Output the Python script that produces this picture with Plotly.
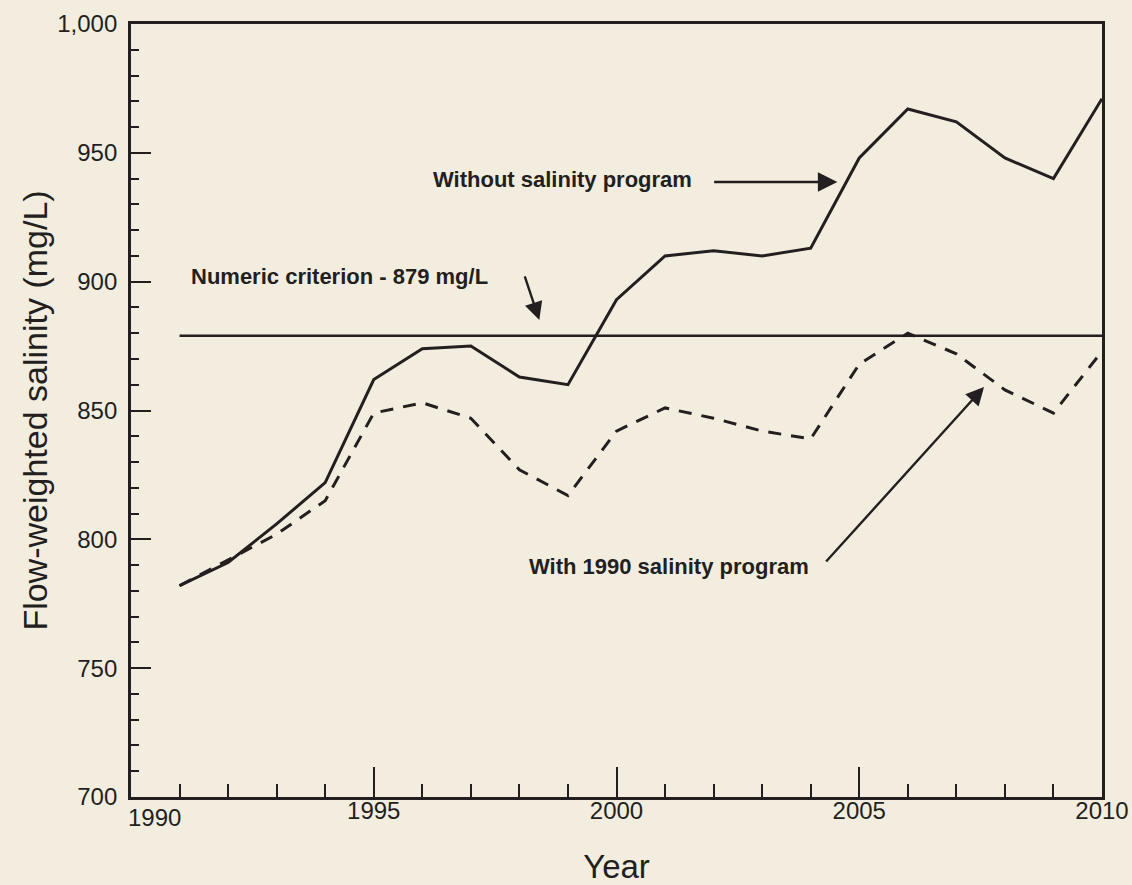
import plotly.graph_objects as go

# ---------------- data ----------------
years = list(range(1991, 2011))
without_program = [782, 791, 806, 822, 862, 874, 875, 863, 860, 893,
                   910, 912, 910, 913, 948, 967, 962, 948, 940, 971]
with_program = [782, 792, 802, 815, 849, 853, 847, 827, 817, 842,
                851, 847, 842, 839, 868, 880, 872, 858, 849, 873]
criterion_value = 879
criterion_years = [1991, 2010]

x_tick_vals = [1990, 1995, 2000, 2005, 2010]
x_tick_text = ["", "1995", "2000", "2005", "2010"]
y_tick_vals = [700, 750, 800, 850, 900, 950, 1000]

INK = "#231f20"
PAPER = "#f2eddf"
FONT = "Liberation Sans, Arial, Helvetica, sans-serif"

fig = go.Figure()

fig.add_trace(go.Scatter(
    x=criterion_years, y=[criterion_value] * len(criterion_years),
    mode="lines", line=dict(color=INK, width=2.6), hoverinfo="skip"))
fig.add_trace(go.Scatter(
    x=years, y=without_program, mode="lines",
    line=dict(color=INK, width=3), name="Without salinity program"))
fig.add_trace(go.Scatter(
    x=years, y=with_program, mode="lines",
    line=dict(color=INK, width=3, dash="13px,10px"),
    name="With 1990 salinity program"))

ann_font = dict(family=FONT, size=22, color=INK)
annotations = [
    # text labels
    dict(x=2001.6, y=939.5, text="<b>Without salinity program</b>", showarrow=False,
         xanchor="right", yanchor="middle", font=ann_font),
    dict(x=1991.2, y=902, text="<b>Numeric criterion - 879 mg/L</b>", showarrow=False,
         xanchor="left", yanchor="middle", font=ann_font),
    dict(x=1998.15, y=789.5, text="<b>With 1990 salinity program</b>", showarrow=False,
         xanchor="left", yanchor="middle", font=ann_font),
    # arrows
    dict(x=2004.55, y=938.7, ax=2001.98, ay=938.7, axref="x", ayref="y", text="",
         showarrow=True, arrowhead=2, arrowsize=1.5, arrowwidth=2.6, arrowcolor=INK),
    dict(x=1998.41, y=885.1, ax=1998.10, ay=902.6, axref="x", ayref="y", text="",
         showarrow=True, arrowhead=2, arrowsize=1.5, arrowwidth=2.4, arrowcolor=INK),
    dict(x=2007.57, y=859.1, ax=2004.29, ay=790.8, axref="x", ayref="y", text="",
         showarrow=True, arrowhead=2, arrowsize=1.5, arrowwidth=2.4, arrowcolor=INK),
    # offset 1990 tick label
    dict(x=1990, y=700, text="1990", showarrow=False, xanchor="center", yanchor="top",
         xshift=23, yshift=-5, font=dict(family=FONT, size=24, color=INK)),
]

fig.update_layout(
    width=1132, height=885,
    margin=dict(l=131, r=30, t=24, b=88),
    paper_bgcolor=PAPER, plot_bgcolor=PAPER,
    showlegend=False,
    font=dict(family=FONT, color=INK),
    annotations=annotations,
)

fig.update_xaxes(
    range=[1990, 2010], showgrid=False, zeroline=False, automargin=False,
    showline=True, linewidth=2.6, linecolor=INK, mirror=True,
    tickmode="array", tickvals=x_tick_vals, ticktext=x_tick_text,
    ticks="inside", ticklen=30, tickwidth=2, tickcolor=INK,
    minor=dict(dtick=1, ticks="inside", ticklen=13, tickwidth=2, tickcolor=INK, showgrid=False),
    tickfont=dict(family=FONT, size=24, color=INK),
    ticklabelstandoff=-10,
    title=dict(text="Year", font=dict(family=FONT, size=33, color=INK), standoff=38),
)
fig.update_yaxes(
    range=[700, 1000], showgrid=False, zeroline=False, automargin=False,
    showline=True, linewidth=2.8, linecolor=INK, mirror=True,
    tickmode="array", tickvals=y_tick_vals, tickformat=",d",
    ticks="inside", ticklen=20, tickwidth=2.4, tickcolor=INK,
    minor=dict(dtick=10, ticks="inside", ticklen=8, tickwidth=2, tickcolor=INK, showgrid=False),
    tickfont=dict(family=FONT, size=24, color=INK),
    ticklabelstandoff=6,
    title=dict(text="Flow-weighted salinity (mg/L)", font=dict(family=FONT, size=34, color=INK),
               standoff=0),
)

fig.write_html(
    "out.html",
    config={"displayModeBar": False},
    post_script="document.body.style.margin='0';document.body.style.background='%s';" % PAPER,
)
